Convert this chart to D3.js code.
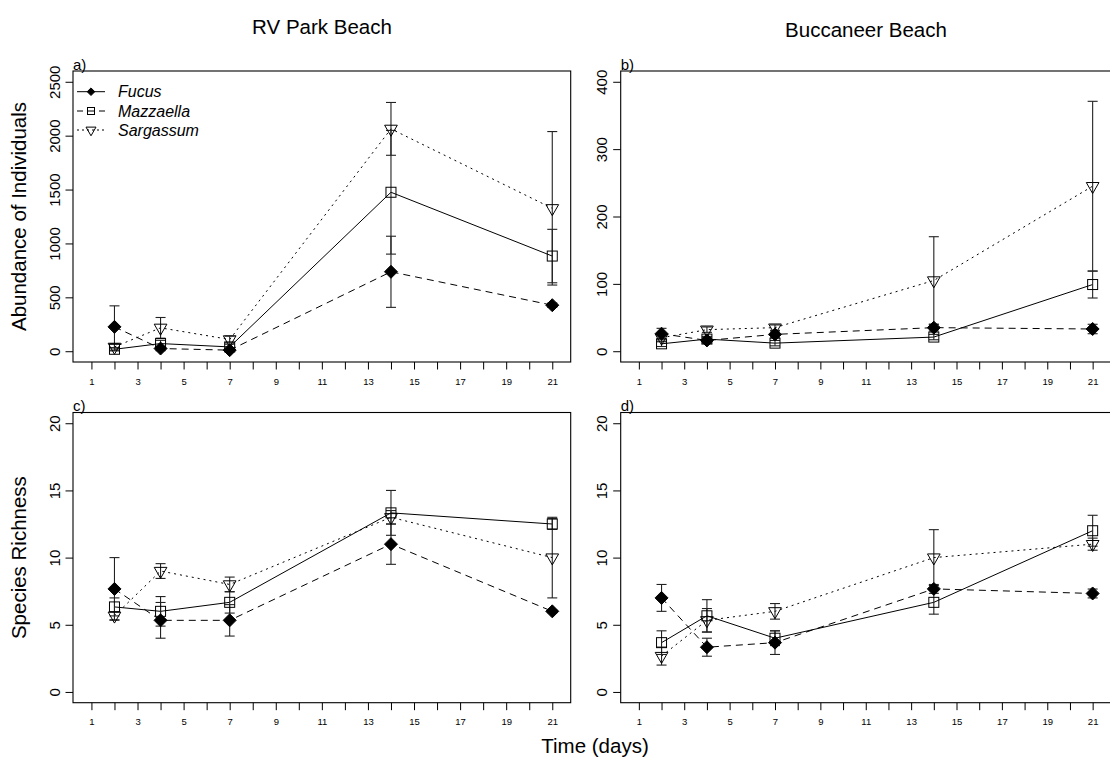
<!DOCTYPE html>
<html>
<head>
<meta charset="utf-8">
<script src="https://cdn.jsdelivr.net/npm/d3@7"></script>
<style>
  html, body { margin: 0; padding: 0; background: #fff; }
  svg { display: block; font-family: "Liberation Sans", Arial, Helvetica, sans-serif; }
</style>
</head>
<body>
<svg id="chart" width="1110" height="759"></svg>
<script>
// ---------------- DATA ----------------
const days = [2, 4, 7, 14, 21];
const xTickValues = d3.range(1, 22);
const xTickLabels = [1, 3, 5, 7, 9, 11, 13, 15, 17, 19, 21];
const species = ["Fucus", "Mazzaella", "Sargassum"];

// a) RV Park Beach – abundance
const rvAbundFucus     = [226, 25, 10, 737, 427];
const rvAbundFucusSE   = [195, 20, 10, 330, 20];
const rvAbundMazz      = [18, 71, 40, 1475, 883];
const rvAbundMazzSE    = [15, 30, 25, 574, 248];
const rvAbundSarg      = [40, 217, 109, 2063, 1326];
const rvAbundSargSE    = [30, 96, 31, 245, 712];
// b) Buccaneer Beach – abundance
const bucAbundFucus    = [26, 16, 25, 35, 33];
const bucAbundFucusSE  = [8, 4, 5, 5, 7];
const bucAbundMazz     = [11, 18, 12, 21, 99];
const bucAbundMazzSE   = [4, 4, 4, 4, 20];
const bucAbundSarg     = [20, 32, 35, 105, 245];
const bucAbundSargSE   = [6, 4, 4, 65, 126];
// c) RV Park Beach – species richness
const rvRichFucus      = [7.67, 5.33, 5.33, 11, 6];
const rvRichFucusSE    = [2.33, 1.33, 1.17, 1.5, 0.1];
const rvRichMazz       = [6.33, 6, 6.67, 13.33, 12.5];
const rvRichMazzSE     = [0.67, 1.1, 0.8, 1.67, 0.4];
const rvRichSarg       = [5.67, 9, 8, 13, 10];
const rvRichSargSE     = [0.3, 0.55, 0.55, 0.5, 3];
// d) Buccaneer Beach – species richness
const bucRichFucus     = [7, 3.33, 3.67, 7.67, 7.33];
const bucRichFucusSE   = [1, 0.67, 0.88, 0.33, 0.33];
const bucRichMazz      = [3.67, 5.67, 4, 6.67, 12];
const bucRichMazzSE    = [0.88, 1.2, 0.55, 0.88, 1.15];
const bucRichSarg      = [2.67, 5.33, 6, 10, 11];
const bucRichSargSE    = [0.67, 0.88, 0.58, 2.08, 0.45];

const abundTicksRV  = [0, 500, 1000, 1500, 2000, 2500];
const abundTicksBuc = [0, 100, 200, 300, 400];
const richTicks     = [0, 5, 10, 15, 20];

// ---------------- LAYOUT ----------------
const svg = d3.select("#chart");
const font = "'Liberation Sans', Arial, Helvetica, sans-serif";

const colsX = [[73, 570.7], [620.7, 1110.8]];
const rowsY = [[362, 71], [702.7, 412.5]];

const panels = [
  { label: "a)", col: 0, row: 0, ymax: 2500, ticks: abundTicksRV, legend: true,
    series: [[rvAbundFucus, rvAbundFucusSE], [rvAbundMazz, rvAbundMazzSE], [rvAbundSarg, rvAbundSargSE]] },
  { label: "b)", col: 1, row: 0, ymax: 400, ticks: abundTicksBuc,
    series: [[bucAbundFucus, bucAbundFucusSE], [bucAbundMazz, bucAbundMazzSE], [bucAbundSarg, bucAbundSargSE]] },
  { label: "c)", col: 0, row: 1, ymax: 20, ticks: richTicks,
    series: [[rvRichFucus, rvRichFucusSE], [rvRichMazz, rvRichMazzSE], [rvRichSarg, rvRichSargSE]] },
  { label: "d)", col: 1, row: 1, ymax: 20, ticks: richTicks,
    series: [[bucRichFucus, bucRichFucusSE], [bucRichMazz, bucRichMazzSE], [bucRichSarg, bucRichSargSE]] }
];

// line styles as drawn in the plot
const lineDash = ["7,5", null, "2,4"];

function diamond(g, x, y, r) {
  g.append("path")
    .attr("d", `M${x},${y - r}L${x + r},${y}L${x},${y + r}L${x - r},${y}Z`)
    .attr("fill", "#000").attr("stroke", "#000").attr("stroke-width", 1);
}
function square(g, x, y, s) {
  g.append("rect").attr("x", x - s / 2).attr("y", y - s / 2)
    .attr("width", s).attr("height", s)
    .attr("fill", "none").attr("stroke", "#000").attr("stroke-width", 1);
}
function triDown(g, x, y, w) {
  const xc = w / 2, r = xc / 0.866;
  g.append("path")
    .attr("d", `M${x - xc},${y - r / 2}L${x + xc},${y - r / 2}L${x},${y + r}Z`)
    .attr("fill", "none").attr("stroke", "#000").attr("stroke-width", 1);
}
const markers = [
  (g, x, y) => diamond(g, x, y, 6.5),
  (g, x, y) => square(g, x, y, 10),
  (g, x, y) => triDown(g, x, y, 12.7)
];

panels.forEach(p => {
  const [x0, x1] = colsX[p.col];
  const [yb, yt] = rowsY[p.row];
  const ext = p.ymax * 0.04;
  const x = d3.scaleLinear().domain([0.2, 21.8]).range([x0, x1]);
  const y = d3.scaleLinear().domain([-ext, p.ymax + ext]).range([yb, yt]);
  const g = svg.append("g");

  // x axis
  const xa = g.append("g").attr("transform", `translate(0,${yb})`)
    .call(d3.axisBottom(x).tickValues(xTickValues).tickSize(7.5)
      .tickFormat(d => xTickLabels.includes(d) ? String(d) : ""));
  xa.select(".domain").remove();
  xa.selectAll("line").attr("stroke", "#000").attr("stroke-width", 1);
  xa.selectAll("text").attr("y", 16).attr("font-size", 9.5)
    .attr("font-family", font).attr("fill", "#000");

  // y axis
  const ya = g.append("g").attr("transform", `translate(${x0},0)`)
    .call(d3.axisLeft(y).tickValues(p.ticks).tickSize(7.5).tickFormat(d3.format("d")));
  ya.select(".domain").remove();
  ya.selectAll("line").attr("stroke", "#000").attr("stroke-width", 1);
  ya.selectAll("text")
    .attr("transform", "rotate(-90)")
    .attr("x", 0).attr("y", -13.5).attr("dy", 0)
    .attr("text-anchor", "middle")
    .attr("font-size", 15).attr("font-family", font).attr("fill", "#000");

  // box
  g.append("rect").attr("x", x0).attr("y", yt)
    .attr("width", x1 - x0).attr("height", yb - yt)
    .attr("fill", "none").attr("stroke", "#000").attr("stroke-width", 1.1);

  // panel label
  g.append("text").attr("x", x0).attr("y", yt - 1.5)
    .attr("font-size", 15).attr("font-family", font).text(p.label);

  // lines
  p.series.forEach(([vals], i) => {
    const line = d3.line().x((d, j) => x(days[j])).y(d => y(d));
    g.append("path").datum(vals).attr("d", line)
      .attr("fill", "none").attr("stroke", "#000").attr("stroke-width", 1)
      .attr("stroke-dasharray", lineDash[i]);
  });
  // error bars
  p.series.forEach(([vals, se]) => {
    vals.forEach((v, j) => {
      const cx = x(days[j]);
      const lo = y(v - se[j]), hi = y(v + se[j]);
      g.append("line").attr("x1", cx).attr("x2", cx).attr("y1", lo).attr("y2", hi)
        .attr("stroke", "#222").attr("stroke-width", 1.1);
      [lo, hi].forEach(yy => g.append("line")
        .attr("x1", cx - 5).attr("x2", cx + 5).attr("y1", yy).attr("y2", yy)
        .attr("stroke", "#222").attr("stroke-width", 1.1));
    });
  });
  // markers
  p.series.forEach(([vals], i) => {
    vals.forEach((v, j) => markers[i](g, x(days[j]), y(v)));
  });

  // legend
  if (p.legend) {
    const legDash = [null, "6,5", "2,3"];
    const rowsL = [91.7, 111, 130];
    const legMarkers = [
      (gg, xx, yy) => diamond(gg, xx, yy, 3.8),
      (gg, xx, yy) => square(gg, xx, yy, 7),
      (gg, xx, yy) => triDown(gg, xx, yy, 10)
    ];
    species.forEach((s, i) => {
      const ly = rowsL[i];
      g.append("line").attr("x1", 77).attr("x2", 105).attr("y1", ly).attr("y2", ly)
        .attr("stroke", "#000").attr("stroke-width", 1)
        .attr("stroke-dasharray", legDash[i]);
      legMarkers[i](g, 91, ly);
      g.append("text").attr("x", 118).attr("y", ly + 5.5)
        .attr("font-size", 16).attr("font-style", "italic")
        .attr("font-family", font).text(s);
    });
  }
});

// titles
svg.append("text").attr("x", 322).attr("y", 34).attr("text-anchor", "middle")
  .attr("font-size", 20.5).attr("font-family", font).text("RV Park Beach");
svg.append("text").attr("x", 866).attr("y", 37).attr("text-anchor", "middle")
  .attr("font-size", 20.5).attr("font-family", font).text("Buccaneer Beach");
svg.append("text").attr("x", 595).attr("y", 753).attr("text-anchor", "middle")
  .attr("font-size", 20.5).attr("font-family", font).text("Time (days)");
svg.append("text").attr("transform", "translate(26,216.5) rotate(-90)")
  .attr("text-anchor", "middle").attr("font-size", 20.5).attr("font-family", font)
  .text("Abundance of Individuals");
svg.append("text").attr("transform", "translate(26,557.6) rotate(-90)")
  .attr("text-anchor", "middle").attr("font-size", 20.5).attr("font-family", font)
  .text("Species Richness");
</script>
</body>
</html>
